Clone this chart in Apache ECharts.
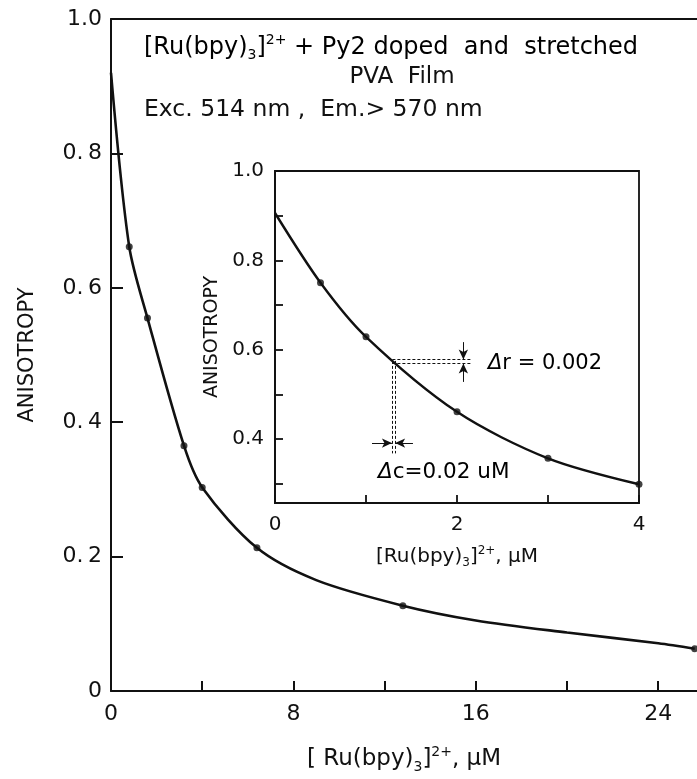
<!DOCTYPE html>
<html><head><meta charset="utf-8">
<script src="https://cdn.jsdelivr.net/npm/echarts@6/dist/echarts.min.js"></script>
<style>html,body{margin:0;padding:0;background:#fff}#c{width:697px;height:779px}</style>
</head><body><div id="c"></div>
<script>
// ---- data ----
const mainConc  = [0.8, 1.6, 3.2, 4.0, 6.4, 12.8, 25.6];
const mainAniso = [0.661, 0.555, 0.365, 0.303, 0.213, 0.127, 0.063];
const mainCurveConc  = [0, 0.8, 1.6, 3.2, 4.0, 6.4, 9.0, 12.8, 16, 20, 24, 25.6];
const mainCurveAniso = [0.92, 0.661, 0.555, 0.365, 0.303, 0.213, 0.165, 0.127, 0.105, 0.087, 0.071, 0.063];
const insetConc  = [0.5, 1, 2, 3, 4];
const insetAniso = [0.75, 0.629, 0.461, 0.357, 0.299];
const insetCurveConc  = [0, 0.5, 1, 2, 3, 4];
const insetCurveAniso = [0.906, 0.75, 0.629, 0.461, 0.357, 0.299];
const mainXTicks = [0, 8, 16, 24];
const mainYTicks = [0, 0.2, 0.4, 0.6, 0.8, 1.0];
const insetYTickValues  = [0.3, 0.4, 0.5, 0.6, 0.7, 0.8, 0.9, 1.0];
const insetYLabelValues = [0.4, 0.6, 0.8, 1.0];
// annotation geometry (data units of inset)
const drLevels = [0.578, 0.569];     // Δr dashed lines (y)
const drXRange = [1.29, 2.16];
const dcLevels = [1.285, 1.32];      // Δc dashed lines (x)
const dcYRange = [0.575, 0.368];
const drArrowX = 2.07, drArrowTop = 0.617, drArrowBot = 0.528;
const dcArrowY = 0.391, dcArrowLeft = 1.066, dcArrowRight = 1.516;

const FONT = 'DejaVu Sans';
const C = '#111';
const mk = (size, subSize, subPad, supPad) => ({
  n: {fontFamily: FONT, fontSize: size, color: C},
  i: {fontFamily: FONT, fontSize: size, color: C, fontStyle: 'italic'},
  sub: {fontFamily: FONT, fontSize: subSize, color: C, padding: [subPad, 0, 0, 0]},
  sup: {fontFamily: FONT, fontSize: subSize, color: C, padding: [0, 0, supPad, 0]}
});
const richTitle = mk(24, 14, 16, 15);
const richAxis = mk(23, 14, 16, 14);
const richSmall = mk(20, 12, 13, 12);
const RU = '{n|[Ru(bpy)}{sub|3}{n|]}{sup|2+}';

const zip = (a, b) => a.map((v, i) => [v, b[i]]);
const dashed = {color: C, width: 1, type: [3, 2]};
const solid = {color: C, width: 1, type: 'solid'};

const markData = [];
drLevels.forEach(y => markData.push([{coord: [drXRange[0], y], lineStyle: dashed, symbol: 'none'}, {coord: [drXRange[1], y], symbol: 'none'}]));
dcLevels.forEach(x => markData.push([{coord: [x, dcYRange[0]], lineStyle: dashed, symbol: 'none'}, {coord: [x, dcYRange[1]], symbol: 'none'}]));
markData.push([{coord: [drArrowX, drArrowTop], lineStyle: solid}, {coord: [drArrowX, drLevels[0]]}]);
markData.push([{coord: [drArrowX, drArrowBot], lineStyle: solid}, {coord: [drArrowX, drLevels[1]]}]);
markData.push([{coord: [dcArrowLeft, dcArrowY], lineStyle: solid}, {coord: [dcLevels[0], dcArrowY]}]);
markData.push([{coord: [dcArrowRight, dcArrowY], lineStyle: solid}, {coord: [dcLevels[1], dcArrowY]}]);

const fmtY = v => {
  const m = mainYTicks.find(t => Math.abs(t - v) < 1e-9);
  if (m === undefined) return '';
  if (m === 0) return '0';
  if (m === 1) return '1.0';
  return m.toFixed(1).replace('.', '.\u2009');
};

const chart = echarts.init(document.getElementById('c'), null, {renderer: 'canvas'});
chart.setOption({
  backgroundColor: '#fff',
  animation: false,
  grid: [
    {left: 111, top: 19, bottom: 88, right: 0, show: false},
    {left: 275, top: 171, bottom: 276, right: 58, show: true, borderColor: C, borderWidth: 1.8, backgroundColor: '#fff'}
  ],
  xAxis: [
    {gridIndex: 0, type: 'value', min: 0, max: 25.7, interval: 4,
     axisLine: {lineStyle: {color: C, width: 2}},
     axisTick: {inside: true, length: 10, lineStyle: {color: C, width: 2}},
     splitLine: {show: false},
     axisLabel: {margin: 12, fontFamily: FONT, fontSize: 22, color: C, showMaxLabel: false,
       formatter: v => mainXTicks.includes(v) ? String(v) : ''},
     name: '{n|[ Ru(bpy)}{sub|3}{n|]}{sup|2+}{n|, μM}', nameLocation: 'middle', nameGap: 53,
     nameTextStyle: {rich: richAxis}},
    {gridIndex: 0, type: 'value', position: 'top', min: 0, max: 25.7,
     axisLine: {show: true, lineStyle: {color: C, width: 2}},
     axisTick: {show: false}, axisLabel: {show: false}, splitLine: {show: false}},
    {gridIndex: 1, type: 'value', min: 0, max: 4, interval: 1,
     axisLine: {lineStyle: {color: C, width: 1.8}},
     axisTick: {inside: true, length: 8, lineStyle: {color: C, width: 1.8}},
     splitLine: {show: false},
     axisLabel: {margin: 12, fontFamily: FONT, fontSize: 20, color: C,
       formatter: v => (v % 2 === 0) ? String(v) : ''},
     name: RU + '{n|, μM}', nameLocation: 'middle', nameGap: 41,
     nameTextStyle: {rich: richSmall}}
  ],
  yAxis: [
    {gridIndex: 0, type: 'value', min: 0, max: 1.0, interval: 0.2,
     axisLine: {lineStyle: {color: C, width: 2}},
     axisTick: {inside: true, length: 12, lineStyle: {color: C, width: 2}},
     splitLine: {show: false},
     axisLabel: {margin: 9, fontFamily: FONT, fontSize: 22, color: C, formatter: fmtY},
     name: 'ANISOTROPY', nameLocation: 'middle', nameGap: 73,
     nameTextStyle: {fontFamily: FONT, fontSize: 21, color: C}},
    {gridIndex: 1, type: 'value', min: 0.257, max: 1.0,
     axisLine: {lineStyle: {color: C, width: 1.8}},
     axisTick: {inside: true, length: 8, customValues: insetYTickValues, lineStyle: {color: C, width: 1.8}},
     splitLine: {show: false},
     axisLabel: {margin: 11, fontFamily: FONT, fontSize: 20, color: C, customValues: insetYLabelValues,
       formatter: v => v.toFixed(1)},
     name: 'ANISOTROPY', nameLocation: 'middle', nameGap: 47,
     nameTextStyle: {fontFamily: FONT, fontSize: 19, color: C}}
  ],
  series: [
    {type: 'line', xAxisIndex: 0, yAxisIndex: 0, data: zip(mainCurveConc, mainCurveAniso),
     smooth: 0.3, showSymbol: false, symbol: 'none',
     lineStyle: {color: C, width: 2.6}, silent: true, z: 3},
    {type: 'scatter', xAxisIndex: 0, yAxisIndex: 0, data: zip(mainConc, mainAniso),
     symbolSize: 7, itemStyle: {color: C}, silent: true, z: 4},
    {type: 'line', xAxisIndex: 2, yAxisIndex: 1, data: zip(insetCurveConc, insetCurveAniso),
     smooth: 0.3, showSymbol: false, symbol: 'none',
     lineStyle: {color: C, width: 2.4}, silent: true, z: 5},
    {type: 'scatter', xAxisIndex: 2, yAxisIndex: 1, data: zip(insetConc, insetAniso),
     symbolSize: 7, itemStyle: {color: C}, silent: true, z: 6,
     markLine: {silent: true, animation: false, symbol: ['none', 'arrow'], symbolSize: [7, 10],
       label: {show: false}, lineStyle: {color: C}, data: markData}}
  ],
  graphic: [
    {type: 'text', left: 144, top: 33, style: {text: RU + '{n| + Py2 doped  and  stretched}', rich: richTitle}},
    {type: 'text', x: 402, y: 66, style: {text: 'PVA  Film', fontFamily: FONT, fontSize: 23, fill: C, align: 'center'}},
    {type: 'text', left: 144, top: 98, style: {text: 'Exc. 514 nm ,  Em.> 570 nm', fontFamily: FONT, fontSize: 23.5, fill: C}},
    {type: 'text', left: 488, top: 353, style: {text: '{i|Δ}{n|r = 0.002}', rich: mk(21, 12, 0, 0)}},
    {type: 'text', left: 378, top: 461, style: {text: '{i|Δ}{n|c=0.02 uM}', rich: mk(21.5, 12, 0, 0)}}
  ]
});
</script></body></html>
